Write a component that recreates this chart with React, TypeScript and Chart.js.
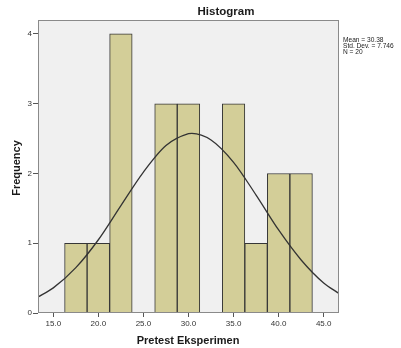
import React, { useEffect, useRef } from "react";
import { Chart, registerables } from "chart.js";

Chart.register(...registerables);

const binCenters = [17.5, 20, 22.5, 25, 27.5, 30, 32.5, 35, 37.5, 40, 42.5];
const frequencies = [1, 1, 4, 0, 3, 3, 0, 3, 1, 2, 2];
const curveX = [13.3, 15, 17.5, 20, 22.5, 25, 27.5, 30, 30.38, 32.5, 35, 37.5, 40, 42.5, 45, 46.7];
const curveY = [0.23, 0.36, 0.65, 1.05, 1.54, 2.02, 2.4, 2.57, 2.575, 2.48, 2.16, 1.69, 1.19, 0.76, 0.43, 0.28];
const xTicks = [15, 20, 25, 30, 35, 40, 45];
const yTicks = [0, 1, 2, 3, 4];
const statsLines = ["Mean = 30.38", "Std. Dev. = 7.746", "N = 20"];
const chartTitle = "Histogram";
const xTitle = "Pretest Eksperimen";
const yTitle = "Frequency";

const FONT = "'Liberation Sans', Arial, sans-serif";

const decor = {
  id: "decor",
  beforeDraw(chart: any) {
    const { ctx, chartArea: a } = chart;
    ctx.save();
    ctx.fillStyle = "#ffffff";
    ctx.fillRect(0, 0, chart.width, chart.height);
    ctx.fillStyle = "#f0f0f0";
    ctx.fillRect(a.left, a.top, a.right - a.left, a.bottom - a.top);
    ctx.restore();
  },
  afterDraw(chart: any) {
    const { ctx, chartArea: a } = chart;
    ctx.save();
    ctx.strokeStyle = "#8a8a8a";
    ctx.lineWidth = 1;
    ctx.strokeRect(a.left + 0.5, a.top + 0.5, a.right - a.left - 1, a.bottom - a.top - 1);

    ctx.fillStyle = "#1a1a1a";
    ctx.textAlign = "center";
    ctx.textBaseline = "middle";
    ctx.font = `bold 11.5px ${FONT}`;
    ctx.fillText(chartTitle, 226, 12);

    ctx.font = `bold 11px ${FONT}`;
    ctx.fillText(xTitle, 188, 341);

    ctx.save();
    ctx.translate(17, 168);
    ctx.rotate(-Math.PI / 2);
    ctx.font = `bold 11px ${FONT}`;
    ctx.fillText(yTitle, 0, 0);
    ctx.restore();

    ctx.textAlign = "left";
    ctx.font = `6.6px ${FONT}`;
    ctx.fillStyle = "#222";
    statsLines.forEach((s, i) => ctx.fillText(s, 343, 40 + i * 6.3));
    ctx.restore();
  },
};

export default function App() {
  const ref = useRef<HTMLCanvasElement | null>(null);
  useEffect(() => {
    if (!ref.current) return;
    const chart = new Chart(ref.current, {
      type: "bar",
      data: {
        datasets: [
          {
            type: "line",
            data: curveX.map((x, i) => ({ x, y: curveY[i] })),
            borderColor: "#333333",
            borderWidth: 1.3,
            pointRadius: 0,
            cubicInterpolationMode: "monotone",
            fill: false,
            order: 0,
          } as any,
          {
            type: "bar",
            data: binCenters.map((x, i) => ({ x, y: frequencies[i] })),
            backgroundColor: "#d3ce98",
            borderColor: "#363636",
            borderWidth: 1,
            barPercentage: 1,
            categoryPercentage: 1,
            order: 1,
          } as any,
        ],
      },
      options: {
        animation: false,
        responsive: false,
        devicePixelRatio: 1,
        layout: { padding: { left: 0, right: 62, top: 20, bottom: 0 } },
        plugins: {
          legend: { display: false },
          tooltip: { enabled: false },
          title: { display: false },
        },
        scales: {
          x: {
            type: "linear",
            min: 13.3,
            max: 46.7,
            offset: false,
            afterBuildTicks: (s: any) => {
              s.ticks = xTicks.map((v) => ({ value: v }));
            },
            afterFit: (s: any) => {
              s.height = 35;
            },
            ticks: {
              callback: (v: any) => Number(v).toFixed(1),
              font: { size: 8, family: FONT },
              color: "#333",
              maxRotation: 0,
              autoSkip: false,
              padding: 2,
            },
            grid: { drawOnChartArea: false, offset: false, tickLength: 4, color: "#555" },
            border: { display: false },
          },
          y: {
            type: "linear",
            min: 0,
            max: 4.2,
            afterBuildTicks: (s: any) => {
              s.ticks = yTicks.map((v) => ({ value: v }));
            },
            afterFit: (s: any) => {
              s.width = 38;
            },
            ticks: {
              font: { size: 8, family: FONT },
              color: "#333",
              padding: 1,
            },
            grid: { drawOnChartArea: false, tickLength: 5, color: "#555" },
            border: { display: false },
          },
        },
      } as any,
      plugins: [decor],
    });
    return () => chart.destroy();
  }, []);
  return (
    <div style={{ position: "absolute", left: 0, top: 0, width: 401, height: 348, background: "#fff" }}>
      <canvas ref={ref} width={401} height={348} />
    </div>
  );
}
